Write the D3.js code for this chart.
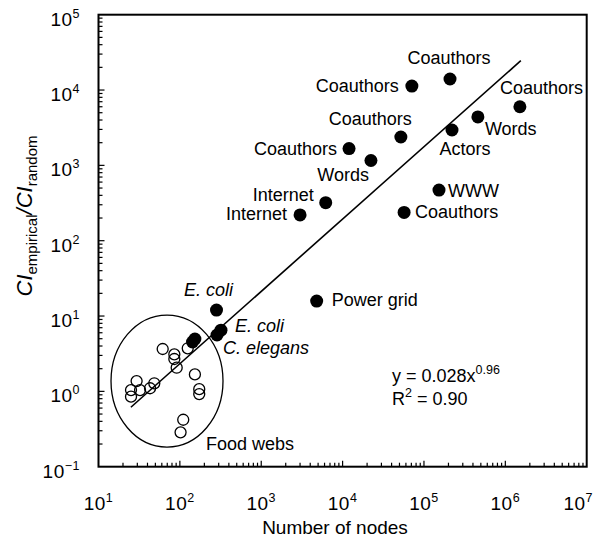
<!DOCTYPE html>
<html><head><meta charset="utf-8">
<script src="https://cdn.jsdelivr.net/npm/d3@7"></script>
<style>
body{margin:0;background:#fff}
text{font-family:"Liberation Sans",Arial,sans-serif;fill:#000}
</style></head>
<body><svg id="c" width="594" height="544"></svg>
<script>
// Filled points: empirical networks
const netNames = ["Coauthors","Coauthors","Coauthors","Words","Actors","Coauthors","Coauthors","Words","Internet","Internet","WWW","Coauthors","Power grid","E. coli","E. coli","C. elegans","",""];
const netNodes = [2.09e5,7.1e4,1.51e6,4.6e5,2.21e5,5.2e4,1.2e4,2.23e4,6.2e3,3.0e3,1.53e5,5.7e4,4.8e3,282,320,286,153,143];
const netRatio = [1.40e4,1.13e4,6.0e3,4.4e3,2.95e3,2.38e3,1.67e3,1.16e3,320,220,470,237,15.8,12.0,6.5,5.6,4.96,4.52];
const netItalic = [0,0,0,0,0,0,0,0,0,0,0,0,0,1,1,1,0,0];
// Open points: food webs
const foodNodes = [61.5,85.5,85.5,91.4,125,153,173,173,29.4,48.5,43,32.4,25.1,25.1,110,102];
const foodRatio = [3.65,3.10,2.69,2.06,3.73,1.68,1.07,0.92,1.37,1.28,1.10,1.04,1.04,0.85,0.42,0.286];
// Fit y = 0.028 x^0.96
const fitA = 0.028, fitB = 0.96, fitR2 = "0.90", fitRange = [25, 1.55e6];
const xTicks = [1,2,3,4,5,6,7];
const yTicks = [-1,0,1,2,3,4,5];

// label layout (dx, dy, anchor) per filled point
const labelLayout = [[-1,-15,"middle"],[-13,6,"end"],[-20,-13,"start"],[7,18,"start"],[13,25,"middle"],[11,-12,"end"],[-12,6,"end"],[-2,20,"end"],[-12,-2,"end"],[-13,5,"end"],[9,7,"start"],[11,6,"start"],[15,5,"start"],[-8,-14,"middle"],[14,2,"start"],[6,19,"start"],[0,0,"start"],[0,0,"start"]];

const svg = d3.select("#c");
const L=98.5,R=586.7,T=14.7,B=466.7;
const x = d3.scaleLog().domain([10,1e7]).range([L,R]);
const y = d3.scaleLog().domain([0.1,1e5]).range([B,T]);

// minor/major ticks (inward, left and bottom)
const g = svg.append("g");
for (let e=1;e<7;e++) for (let m=1;m<10;m++){
  const v=m*Math.pow(10,e); const len=m===1?6:4;
  if(m===1&&e===1) continue;
  g.append("line").attr("x1",x(v)).attr("x2",x(v)).attr("y1",B).attr("y2",B-len).attr("stroke","#000").attr("stroke-width",1.2);
}
for (let e=-1;e<5;e++) for (let m=1;m<10;m++){
  const v=m*Math.pow(10,e); const len=m===1?6:4;
  if(m===1&&e===-1) continue;
  g.append("line").attr("y1",y(v)).attr("y2",y(v)).attr("x1",L).attr("x2",L+len).attr("stroke","#000").attr("stroke-width",1.2);
}
svg.append("rect").attr("x",L).attr("y",T).attr("width",R-L).attr("height",B-T).attr("fill","none").attr("stroke","#000").attr("stroke-width",2);

// tick labels
xTicks.forEach((e,i)=>{
  const last = i===xTicks.length-1;
  const t=svg.append("text").attr("x",last?593:x(Math.pow(10,e))).attr("y",510)
    .attr("text-anchor",last?"end":"middle").style("font-size","19px").style("letter-spacing","0.5px");
  t.append("tspan").text("10");
  t.append("tspan").attr("dy",-8).style("font-size","12.5px").text(String(e));
});
yTicks.forEach(e=>{
  const t=svg.append("text").attr("x",80).attr("y",y(Math.pow(10,e))+11).attr("text-anchor","end").style("font-size","19px").style("letter-spacing","0.5px");
  t.append("tspan").text("10");
  t.append("tspan").attr("dy",-8).style("font-size","12.5px").text(e<0?"\u2212"+(-e):String(e));
});

// axis titles
svg.append("text").attr("x",335).attr("y",534).attr("text-anchor","middle").style("font-size","19px").text("Number of nodes");
const yt=svg.append("text").attr("transform","translate(32,216) rotate(-90)").attr("text-anchor","middle").style("font-size","22px");
yt.append("tspan").style("font-style","italic").text("CI");
yt.append("tspan").attr("dy",5).style("font-size","15px").text("empirical");
yt.append("tspan").attr("dy",-5).style("font-style","italic").text("/CI");
yt.append("tspan").attr("dy",5).style("font-size","15px").text("random");

// ellipse around food webs
svg.append("ellipse").attr("cx",x(69.5)).attr("cy",y(1.37)).attr("rx",56).attr("ry",66).attr("fill","none").attr("stroke","#000").attr("stroke-width",1.3);

// open circles
svg.append("g").selectAll("circle").data(foodNodes).join("circle")
  .attr("cx",d=>x(d)).attr("cy",(d,i)=>y(foodRatio[i])).attr("r",5.5)
  .attr("fill","none").attr("stroke","#000").attr("stroke-width",1.3);

// fit line
const fitPts = fitRange.map(v=>[x(v),y(fitA*Math.pow(v,fitB))]);
svg.append("line").attr("x1",fitPts[0][0]).attr("y1",fitPts[0][1]).attr("x2",fitPts[1][0]).attr("y2",fitPts[1][1]).attr("stroke","#000").attr("stroke-width",1.6);

// filled points
svg.append("g").selectAll("circle").data(netNodes).join("circle")
  .attr("cx",d=>x(d)).attr("cy",(d,i)=>y(netRatio[i])).attr("r",6.5).attr("fill","#000");

// labels
netNames.forEach((n,i)=>{
  if(!n) return;
  const l=labelLayout[i];
  svg.append("text").attr("x",x(netNodes[i])+l[0]).attr("y",y(netRatio[i])+l[1])
    .attr("text-anchor",l[2]).style("font-size","18px").style("font-style",netItalic[i]?"italic":"normal").text(n);
});
svg.append("text").attr("x",206).attr("y",450).style("font-size","18px").text("Food webs");

// equation
const eq=svg.append("text").attr("x",392).attr("y",382).style("font-size","18px");
eq.append("tspan").text("y = "+fitA+"x");
eq.append("tspan").attr("dy",-8).style("font-size","12.5px").text(fitB.toFixed(2));
const r2=svg.append("text").attr("x",392).attr("y",405).style("font-size","18px");
r2.append("tspan").text("R");
r2.append("tspan").attr("dy",-8).style("font-size","12.5px").text("2");
r2.append("tspan").attr("dy",8).text(" = "+fitR2);
</script></body></html>
